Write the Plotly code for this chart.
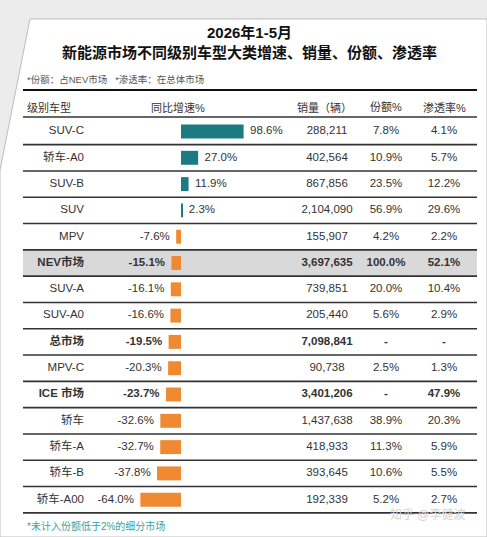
import plotly.graph_objects as go

# data
labels = ['SUV-C', '轿车-A0', 'SUV-B', 'SUV', 'MPV', 'NEV市场', 'SUV-A', 'SUV-A0',
          '总市场', 'MPV-C', 'ICE 市场', '轿车', '轿车-A', '轿车-B', '轿车-A00']
growth = [98.6, 27.0, 11.9, 2.3, -7.6, -15.1, -16.1, -16.6, -19.5, -20.3, -23.7,
          -32.6, -32.7, -37.8, -64.0]
sales = [288211, 402564, 867856, 2104090, 155907, 3697635, 739851, 205440,
         7098841, 90738, 3401206, 1437638, 418933, 393645, 192339]
share = [7.8, 10.9, 23.5, 56.9, 4.2, 100.0, 20.0, 5.6, None, 2.5, None,
         38.9, 11.3, 10.6, 5.2]
pen = [4.1, 5.7, 12.2, 29.6, 2.2, 52.1, 10.4, 2.9, None, 1.3, 47.9,
       20.3, 5.9, 5.5, 2.7]
bold_rows = ['NEV市场', '总市场', 'ICE 市场']
headers = ['级别车型', '同比增速%', '销量（辆）', '份额%', '渗透率%']

W, H = 487, 537
FONT = 'Liberation Sans, Noto Sans CJK SC, sans-serif'
TEAL = '#1b7b80'
ORANGE = '#f08a32'
TXT = '#333333'

# layout geometry (pixels)
x0px, pxper = 181, 0.635        # bar zero line, px per %
row0, pitch = 131.5, 26.3       # first row centre, row pitch
def row_of(py):
    return (py - row0) / pitch

rows = list(range(len(labels)))
def b(s, i):
    return '<b>' + s + '</b>' if labels[i] in bold_rows else s

def pct(v):
    return '-' if v is None else f'{v:.1f}%'

fig = go.Figure()

fig.add_trace(go.Bar(
    x=growth, y=rows, orientation='h', width=0.53,
    marker=dict(color=[TEAL if g > 0 else ORANGE for g in growth], line_width=0),
    hoverinfo='skip'))

fig.add_trace(go.Scatter(
    x=growth, y=rows, mode='text',
    text=[b(('  ' if g > 0 else '') + f'{g:.1f}%' + ('  ' if g < 0 else ''), i) for i, g in enumerate(growth)],
    textposition=['middle right' if g > 0 else 'middle left' for g in growth],
    textfont=dict(family=FONT, size=11.5, color=TXT), cliponaxis=False, hoverinfo='skip'))

# text columns on a pixel axis
cols = [
    (84, 'middle left', [b(l, i) for i, l in enumerate(labels)]),
    (327, 'middle center', [b(f'{v:,}', i) for i, v in enumerate(sales)]),
    (386, 'middle center', [b(pct(v), i) for i, v in enumerate(share)]),
    (444, 'middle center', [b(pct(v), i) for i, v in enumerate(pen)]),
]
for cx, pos, txt in cols:
    fig.add_trace(go.Scatter(
        x=[cx] * len(rows), y=rows, mode='text', text=txt, textposition=pos,
        textfont=dict(family=FONT, size=11.5, color=TXT), xaxis='x2', yaxis='y',
        cliponaxis=False, hoverinfo='skip'))

shapes = []
# card
def P(x, y):
    return f'{x / W:.4f},{1 - y / H:.4f}'
shapes.append(dict(type='path', xref='paper', yref='paper', layer='below',
                   path=f'M{P(30, 19)} L{P(W, 19)} L{P(W, H)} L{P(0, H)} L{P(0, 170)} Z',
                   fillcolor='white', line=dict(color='#bdbdbd', width=1)))
# NEV band
nev = labels.index('NEV市场')
shapes.append(dict(type='rect', xref='x2', yref='y', layer='below',
                   x0=23, x1=477, y0=nev - 0.5, y1=nev + 0.5,
                   fillcolor='#d9d9d9', line_width=0))
# rules
shapes.append(dict(type='line', xref='x2', yref='y', x0=23, x1=477,
                   y0=row_of(90), y1=row_of(90), line=dict(color='#111', width=2)))
shapes.append(dict(type='line', xref='x2', yref='y', x0=23, x1=477,
                   y0=row_of(117), y1=row_of(117), line=dict(color='#333', width=1.6)))
for i in rows:
    shapes.append(dict(type='line', xref='x2', yref='y', x0=23, x1=477,
                       y0=i + 0.5, y1=i + 0.5, line=dict(color='#333', width=1.6)))

def note(text, x, y, size, color, anchor='center'):
    return dict(text=text, x=x / W, y=1 - y / H, xref='paper', yref='paper',
                xanchor=anchor, yanchor='middle', showarrow=False,
                font=dict(family=FONT, size=size, color=color))

ann = [
    note('<b>2026年1-5月</b>', 250, 32, 15, '#111'),
    note('<b>新能源市场不同级别车型大类增速、销量、份额、渗透率</b>', 250, 52, 15, '#111'),
    note('*份额：占NEV市场   *渗透率：在总体市场', 25, 79, 9.5, '#555', 'left'),
    note('*未计入份额低于2%的细分市场', 25, 526, 10, '#3aa3a0', 'left'),
    note('知乎 @李健波', 428, 514, 12, '#d4d4d4'),
]
hx = [(25, 'left'), (178, 'center'), (324, 'center'), (386, 'center'), (444, 'center')]
for (x, anc), h in zip(hx, headers):
    ann.append(dict(text=h, x=x, y=row_of(107), xref='x2', yref='y', xanchor=anc,
                    yanchor='middle', showarrow=False,
                    font=dict(family=FONT, size=11, color=TXT)))

fig.update_layout(
    width=W, height=H, margin=dict(l=0, r=0, t=0, b=0),
    paper_bgcolor='#ececec', plot_bgcolor='rgba(0,0,0,0)',
    showlegend=False, shapes=shapes, annotations=ann,
    xaxis=dict(range=[-x0px / pxper, (W - x0px) / pxper], domain=[0, 1], visible=False, fixedrange=True),
    xaxis2=dict(range=[0, W], overlaying='x', visible=False, fixedrange=True),
    yaxis=dict(range=[row_of(H), row_of(0)], domain=[0, 1], visible=False, fixedrange=True),
)

fig.write_html('out.html', config={'displayModeBar': False},
               post_script="document.body.style.margin='0';document.body.style.overflow='hidden';")
